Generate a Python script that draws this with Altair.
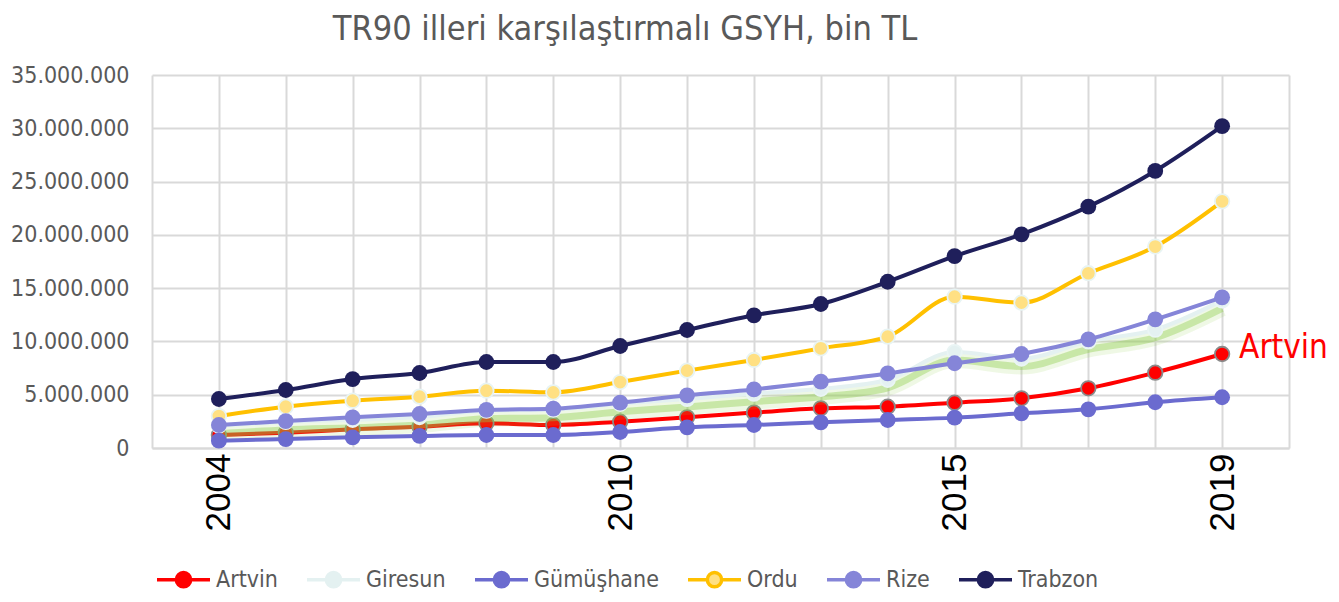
import altair as alt
import pandas as pd

# ---- data (bin TL) ----
years = list(range(2004, 2020))
names = ["Artvin", "Giresun", "Gümüşhane", "Ordu", "Rize", "Trabzon"]

artvin = [1220000, 1440000, 1750000, 2000000, 2320000, 2160000, 2470000, 2880000,
          3320000, 3720000, 3880000, 4250000, 4660000, 5600000, 7070000, 8820000]
giresun = [2100000, 2450000, 2650000, 2900000, 3500000, 3600000, 4150000, 4600000,
           5100000, 5550000, 6400000, 9000000, 8400000, 10000000, 11100000, 13850000]
gumushane = [690000, 840000, 1000000, 1130000, 1220000, 1220000, 1500000, 1940000,
             2160000, 2410000, 2630000, 2850000, 3250000, 3630000, 4290000, 4760000]
ordu = [3000000, 3880000, 4440000, 4820000, 5380000, 5220000, 6190000, 7260000,
        8260000, 9350000, 10450000, 14200000, 13640000, 16400000, 18900000, 23150000]
rize = [2160000, 2530000, 2880000, 3190000, 3570000, 3690000, 4250000, 4940000,
        5500000, 6220000, 7000000, 7950000, 8820000, 10200000, 12070000, 14140000]
trabzon = [4600000, 5440000, 6470000, 7040000, 8070000, 8070000, 9570000, 11070000,
           12450000, 13510000, 15600000, 18000000, 20050000, 22650000, 26000000, 30200000]

series = [artvin, giresun, gumushane, ordu, rize, trabzon]
y_ticks = [0, 5000000, 10000000, 15000000, 20000000, 25000000, 30000000, 35000000]
x_grid = list(range(2003, 2021))
x_labels = [2004, 2010, 2015, 2019]
title_text = "TR90 illeri karşılaştırmalı GSYH, bin TL"

line_colors = ["#ff0000", "#e4f1f1", "#6b6bcf", "#ffc000", "#8585d8", "#1f1f5b"]
fill_colors = ["#ff0000", "#e4f1f1", "#6b6bcf", "#ffe083", "#8585d8", "#1f1f5b"]
marker_strokes = ["#8a8a8a", "#eaf5f5", None, "#e8f4f4", None, None]

rows = []
for name, vals in zip(names, series):
    for yr, v in zip(years, vals):
        rows.append({"yil": yr, "il": name, "gsyh": v})
df = pd.DataFrame(rows)

FONT = "DejaVu Sans Condensed, DejaVu Sans"

x_enc = alt.X(
    "yil:Q",
    scale=alt.Scale(domain=[2003, 2020], nice=False, zero=False),
    axis=alt.Axis(
        values=x_grid, title=None, format="d",
        labelExpr="indexof(" + str(x_labels) + ", datum.value) >= 0 ? '' + datum.value : ''",
        labelAngle=270, labelFont="Liberation Sans", labelFontSize=35,
        labelColor="#000000", labelPadding=5, ticks=False,
        domain=True, domainColor="#d9d9d9", domainWidth=2,
        grid=True, gridColor="#d9d9d9", gridWidth=2, labelOverlap=False,
    ),
)
y_enc = alt.Y(
    "gsyh:Q",
    scale=alt.Scale(domain=[0, 35000000], nice=False),
    axis=alt.Axis(
        values=y_ticks, title=None, format=",d",
        labelExpr="replace(replace(datum.label, ',', '.'), ',', '.')",
        labelFont=FONT, labelFontSize=23, labelColor="#595959", labelPadding=23,
        ticks=False, domain=False, grid=True, gridColor="#d9d9d9", gridWidth=2,
    ),
)

stroke_enc = alt.Stroke("il:N", scale=alt.Scale(domain=names, range=line_colors),
                        legend=alt.Legend(title=None))
fill_enc = alt.Fill("il:N", scale=alt.Scale(domain=names, range=fill_colors),
                    legend=alt.Legend(title=None))

base = alt.Chart(df)
layers = []
for i, name in enumerate(names):
    sub = base.transform_filter(alt.datum.il == name)
    if name == "Giresun":
        layers.append(sub.mark_line(interpolate="monotone", strokeWidth=16, opacity=0.14,
                                    yOffset=8, color="#8fce4a").encode(x=x_enc, y=y_enc))
        layers.append(sub.mark_line(interpolate="monotone", strokeWidth=7, opacity=0.4,
                                    yOffset=8, color="#8fce4a").encode(x=x_enc, y=y_enc))
    layers.append(sub.mark_line(interpolate="monotone", strokeWidth=4).encode(
        x=x_enc, y=y_enc, stroke=stroke_enc))
    pkw = dict(filled=True, size=250, opacity=1)
    if marker_strokes[i]:
        pkw.update(stroke=marker_strokes[i], strokeWidth=1.8, size=210)
    layers.append(sub.mark_point(**pkw).encode(x=x_enc, y=y_enc, fill=fill_enc))

lbl = pd.DataFrame({"yil": [years[-1]], "gsyh": [artvin[-1]], "etiket": [names[0]]})
layers.append(alt.Chart(lbl).mark_text(align="left", baseline="middle", dx=17, dy=-6,
                                        font=FONT, fontSize=33, color="#ff0000").encode(
    x=x_enc, y=y_enc, text="etiket:N"))

# chart title as a text element above the plot
ttl = pd.DataFrame({"t": [title_text]})
layers.append(alt.Chart(ttl).mark_text(align="center", baseline="alphabetic",
                                        font=FONT, fontSize=34, color="#595959").encode(
    x=alt.value(473), y=alt.value(-35), text="t:N"))

legend_symbol = ("M-1,0H-0.27M0.27,0H1M0.27,0A0.27,0.27,0,1,1,-0.27,0"
                 "A0.27,0.27,0,1,1,0.27,0Z")

chart = alt.layer(*layers).properties(
    width=1137, height=373,
    autosize=alt.AutoSizeParams(type="none"),
    padding={"left": 144, "top": 67, "right": 42, "bottom": 145},
).configure_view(stroke=None).configure_legend(
    orient="none", legendX=3, legendY=476, direction="horizontal", columns=6,
    symbolType=legend_symbol, symbolSize=2809, symbolStrokeWidth=3.5,
    labelFont=FONT, labelFontSize=23, labelColor="#595959", labelOffset=4,
    columnPadding=22, title=None,
)

chart.save("out.html", embed_options={"renderer": "svg", "actions": False})
